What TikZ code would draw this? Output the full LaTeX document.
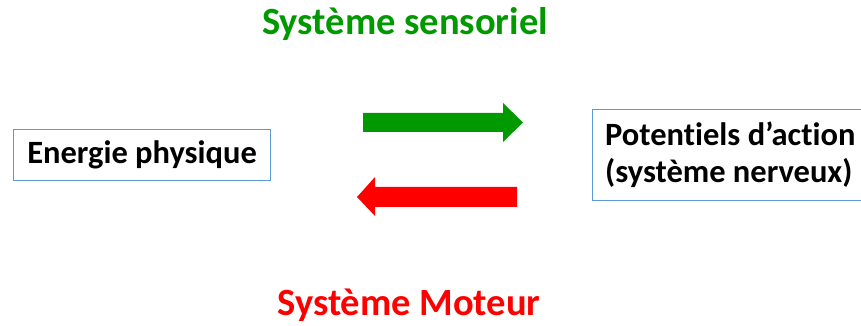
\documentclass[tikz,border=0pt]{standalone}
\usepackage{fontspec}
\setmainfont{Carlito}[Ligatures=NoCommon]
\definecolor{tgreen}{RGB}{0,153,0}
\definecolor{tred}{RGB}{255,0,0}
\definecolor{boxblue}{RGB}{91,155,213}
\tikzset{
  lbox/.style={draw=boxblue, line width=1.2pt, inner sep=0pt, anchor=north west},
  btext/.style={font=\bfseries\fontsize{32.5}{37}\selectfont, text=black},
  title/.style={font=\bfseries\fontsize{38.5}{44}\selectfont},
}
\begin{document}
\begin{tikzpicture}[x=1pt,y=1pt]
\useasboundingbox (0,0) rectangle (861,326);
\clip (0,0) rectangle (861,326);
% boxes
\node[lbox, minimum width=257pt, minimum height=51pt] (eb) at (13,197) {};
\node[btext] (et) at (eb.center) {Energie physique};
\node[lbox, minimum width=290pt, minimum height=91pt] (pb) at (592,217) {};
\node[btext, align=left, anchor=west, inner sep=0pt] (pt) at (605,171.5) {Potentiels d’action\\(système nerveux)};
% titles
\node[title, text=tgreen] (ts) at (405,302) {Système sensoriel};
\node[title, text=tred] (tm) at (409,21) {Système Moteur};
% arrows
\fill[tgreen] (363,194) -- (503,194) -- (503,184) -- (523,203.5) -- (503,223) -- (503,213) -- (363,213) -- cycle;
\fill[tred] (517,119) -- (375,119) -- (375,110) -- (357,129) -- (375,149) -- (375,139) -- (517,139) -- cycle;
\end{tikzpicture}
\end{document}
